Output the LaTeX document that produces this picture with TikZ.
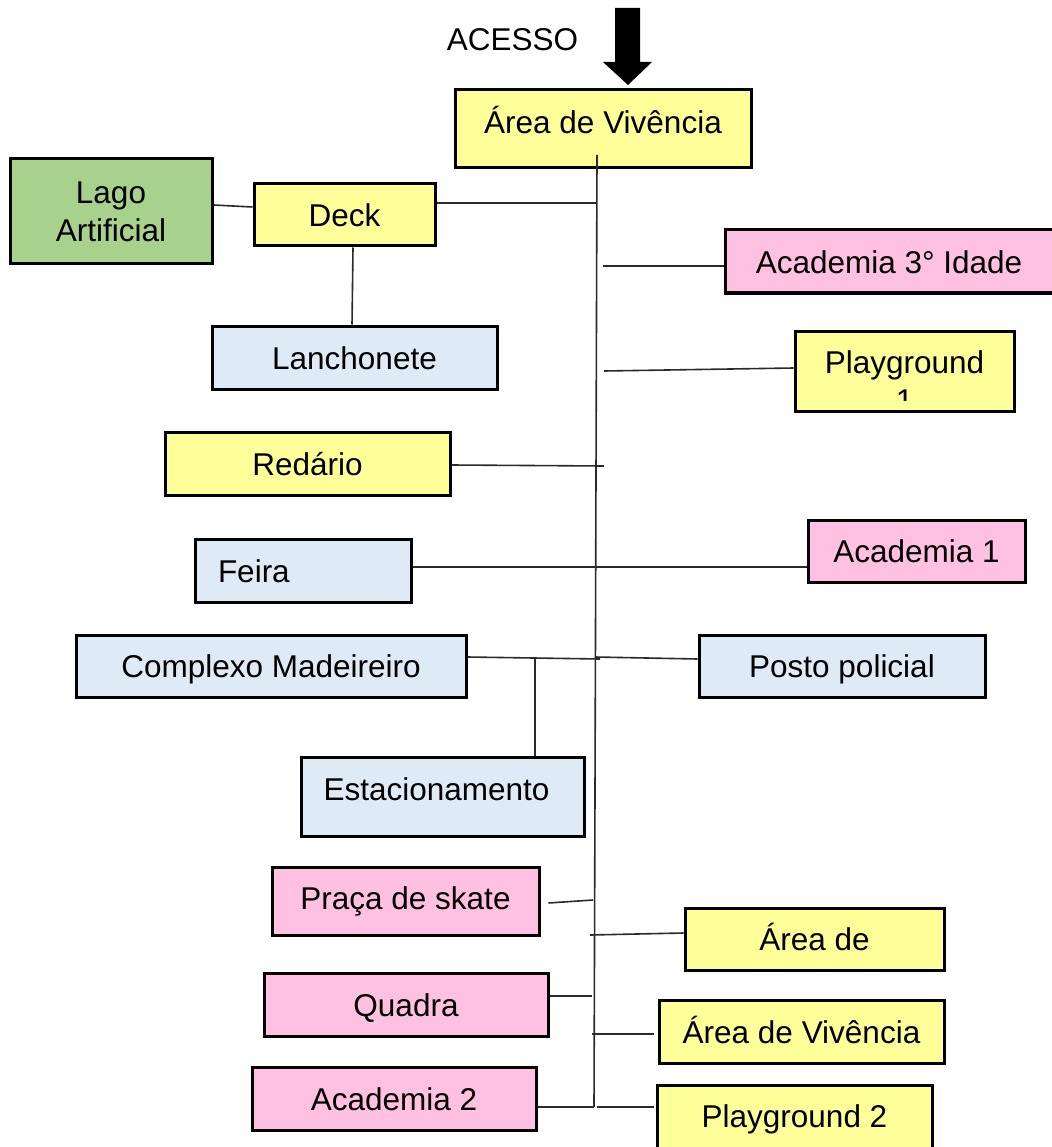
\documentclass[tikz,border=0pt]{standalone}
\usepackage{fontspec}
\setmainfont{Liberation Sans}
\definecolor{cyel}{HTML}{FFFF99}
\definecolor{cgrn}{HTML}{A9D18E}
\definecolor{cblu}{HTML}{DEEAF6}
\definecolor{cpnk}{HTML}{FFC0E1}
\definecolor{cline}{HTML}{2A2A2A}
\begin{document}
\begin{tikzpicture}[x=1pt,y=-1pt,
  box/.style={draw=black, line width=3pt, inner sep=0pt, align=center,
    font=\fontsize{31.5}{38}\selectfont, text height=23pt, text depth=0pt},
  conn/.style={draw=cline, line width=1.6pt},
  yel/.style={box, fill=cyel},
  grn/.style={box, fill=cgrn},
  blu/.style={box, fill=cblu},
  pnk/.style={box, fill=cpnk},
  txt/.style={inner sep=0pt, font=\fontsize{31.5}{38}\selectfont}
]
\useasboundingbox (0,0) rectangle (1051,1147);
\fill[white] (0,0) rectangle (1051,1147);

% arrow ACESSO
\fill[black] (615,8) -- (640,8) -- (640,62) -- (652,62) -- (628,85) -- (603,62) -- (615,62) -- cycle;
\node[txt] (acesso) at (512.5,40) {ACESSO};

% boxes
\node[yel, minimum width=296pt, minimum height=78pt, text depth=14pt] (av1) at (603,129) {Área de Vivência};
\node[grn, minimum width=202pt, minimum height=105pt, text height=, text depth=] (lago) at (111,211.5) {Lago\\Artificial};
\node[yel, minimum width=181pt, minimum height=62pt] (deck) at (344.5,215) {Deck};
\node[blu, minimum width=285pt, minimum height=63pt] (lanch) at (354.5,357.5) {Lanchonete};
\node[pnk, minimum width=328pt, minimum height=63pt] (acad3) at (889,261.5) {Academia 3° Idade};
\node[yel, minimum width=219pt, minimum height=80pt] (pg1) at (904.5,371) {};
\begin{scope}
  \clip (797,333) rectangle (1012,400);
  \node[txt, align=center] (pg1t) at (904.5,381) {Playground\\1};
\end{scope}
\node[yel, minimum width=285pt, minimum height=63pt] (red) at (307.5,463.5) {Redário};
\node[blu, minimum height=63pt, text width=170pt, inner xsep=23pt, align=left] (feira) at (303,570.5) {Feira};
\node[pnk, minimum width=217pt, minimum height=62pt] (acad1) at (916.5,551) {Academia 1};
\node[blu, minimum width=390pt, minimum height=62pt] (compl) at (271,666) {Complexo Madeireiro};
\node[blu, minimum width=286pt, minimum height=62pt] (posto) at (842,666) {Posto policial};
\node[blu, minimum width=283pt, minimum height=79pt] (estac) at (442.5,796.5) {};
\node[txt, text height=23pt, text depth=0pt] (estact) at (436.5,789) {Estacionamento};
\node[pnk, minimum width=267pt, minimum height=68pt, text depth=6pt] (praca) at (405.5,901) {Praça de skate};
\node[yel, minimum width=259pt, minimum height=62pt] (aread) at (814.5,939) {Área de};
\node[pnk, minimum width=284pt, minimum height=63pt] (quadra) at (406,1004.5) {Quadra};
\node[yel, minimum width=285pt, minimum height=63pt] (av2) at (801.5,1031.5) {Área de Vivência};
\node[pnk, minimum width=284pt, minimum height=63pt] (acad2) at (394,1098.5) {Academia 2};
\node[yel, minimum width=275pt, minimum height=67pt, text depth=5pt] (pg2) at (794.5,1118.5) {Playground 2};

% trunk
\coordinate (ttop) at (597,155);
\coordinate (tbot) at (594,1107);
\draw[conn] (ttop) -- (tbot);

% trunk junction points
\coordinate (jdeck) at (597,203);
\coordinate (jac3) at (603,266);
\coordinate (jpg1) at (604,371);
\coordinate (jred) at (604,466);
\coordinate (jcm) at (600,659);
\coordinate (jpp) at (595,657);
\coordinate (jest) at (535,658);
\coordinate (jpr) at (593,900);
\coordinate (jad) at (590,935);
\coordinate (jqd) at (592,996);
\coordinate (jav2) at (592,1034);
\coordinate (jac2) at (594,1107);
\coordinate (jpg2) at (597,1107);

% connectors
\draw[conn] ([yshift=6.5pt]lago.east) -- ([yshift=8pt]deck.west);
\draw[conn] ([xshift=8.5pt]deck.south) -- ([xshift=-2.5pt]lanch.north);
\draw[conn] (deck.east |- jdeck) -- (jdeck);
\draw[conn] (jac3) -- (acad3.west |- jac3);
\draw[conn] (jpg1) -- ([yshift=3pt]pg1.west);
\draw[conn] ([yshift=-1.5pt]red.east) -- (jred);
\draw[conn] ([yshift=3.5pt]feira.east) -- ([yshift=-16pt]acad1.west);
\draw[conn] ([yshift=9pt]compl.east) -- (jcm);
\draw[conn] (jpp) -- ([yshift=7pt]posto.west);
\draw[conn] (jest) -- (estac.north -| jest);
\draw[conn] ([xshift=8pt,yshift=-2pt]praca.east) -- (jpr);
\draw[conn] (jad) -- ([yshift=6pt]aread.west);
\draw[conn] ([yshift=8.5pt]quadra.east) -- (jqd);
\draw[conn] (jav2) -- ([xshift=-4pt,yshift=-2.5pt]av2.west);
\draw[conn] ([yshift=-8.5pt]acad2.east) -- (jac2);
\draw[conn] (jpg2) -- ([xshift=-2pt]pg2.west |- jpg2);
\end{tikzpicture}
\end{document}
